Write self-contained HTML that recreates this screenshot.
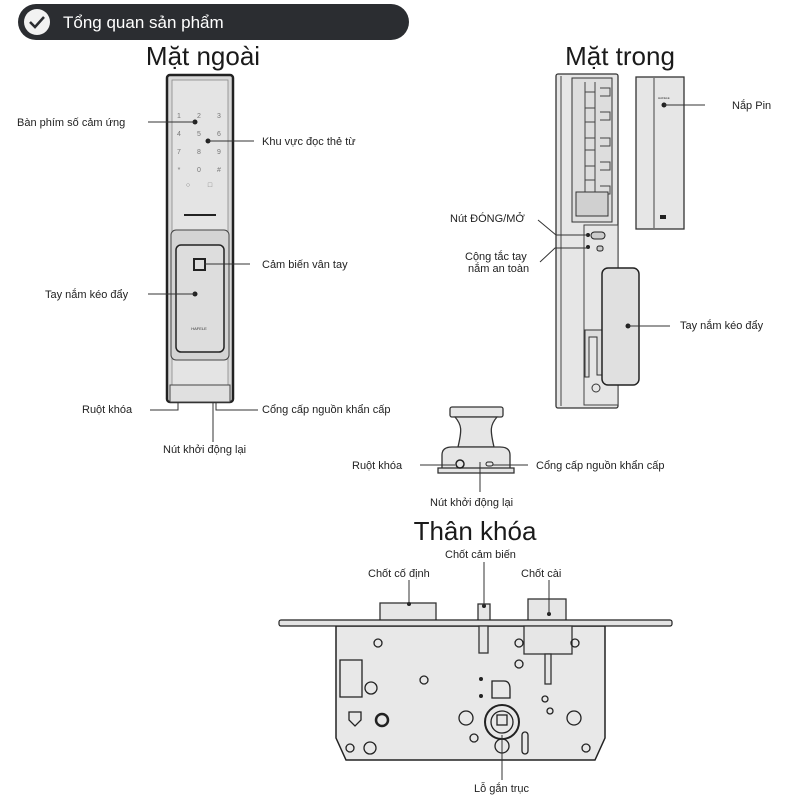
<!DOCTYPE html>
<html><head><meta charset="utf-8"><style>
html,body{margin:0;padding:0;background:#fff;}
svg{display:block;font-family:"Liberation Sans","DejaVu Sans",sans-serif;}
.l{font-size:11px;fill:#222;}
.t{font-size:26px;fill:#1a1a1a;}
.ln{stroke:#333;stroke-width:1;fill:none;}
.b{stroke:#333;stroke-width:1.3;fill:#e6e6e6;}
.s{stroke:#444;stroke-width:1;fill:none;}
</style></head><body>
<svg width="800" height="800" viewBox="0 0 800 800" xmlns="http://www.w3.org/2000/svg">
<rect x="18" y="4" width="391" height="36" rx="18" fill="#2b2d31"/>
<circle cx="37" cy="22" r="13" fill="#f2f2f2"/>
<path d="M30 22 l5 5 l9 -10" stroke="#2b2d31" stroke-width="2.5" fill="none"/>
<text x="63" y="28" font-size="17" fill="#fff">Tổng quan sản phẩm</text>

<text class="t" x="203" y="65" text-anchor="middle">Mặt ngoài</text>
<rect x="167" y="75" width="66" height="327" rx="3" fill="#d8d8d8" stroke="#222" stroke-width="2.5"/>
<rect x="172" y="80" width="56" height="318" fill="#e4e4e4" stroke="#888" stroke-width="0.8"/>
<g font-size="7" fill="#777" text-anchor="middle">
<text x="179" y="118">1</text><text x="199" y="118">2</text><text x="219" y="118">3</text>
<text x="179" y="136">4</text><text x="199" y="136">5</text><text x="219" y="136">6</text>
<text x="179" y="154">7</text><text x="199" y="154">8</text><text x="219" y="154">9</text>
<text x="179" y="172">*</text><text x="199" y="172">0</text><text x="219" y="172">#</text>
<text x="188" y="187">○</text><text x="210" y="187">□</text>
</g>
<line x1="184" y1="215" x2="216" y2="215" stroke="#222" stroke-width="2"/>
<rect x="171" y="230" width="58" height="130" rx="5" fill="#d4d4d4" stroke="#444"/>
<rect x="176" y="245" width="48" height="107" rx="5" fill="#ddd" stroke="#222" stroke-width="1.5"/>
<rect x="194" y="259" width="11" height="11" fill="#ddd" stroke="#222" stroke-width="2"/>
<text x="199" y="330" font-size="4" text-anchor="middle" fill="#333">HAFELE</text>
<rect x="170" y="385" width="60" height="17" fill="#e0e0e0" stroke="#444"/>
<circle cx="195" cy="122" r="2.5" fill="#222"/><line class="ln" x1="148" y1="122" x2="195" y2="122"/>
<text class="l" x="17" y="126">Bàn phím số cảm ứng</text>
<circle cx="208" cy="141" r="2.5" fill="#222"/><line class="ln" x1="208" y1="141" x2="254" y2="141"/>
<text class="l" x="262" y="145">Khu vực đọc thẻ từ</text>
<line class="ln" x1="204" y1="264" x2="250" y2="264"/>
<text class="l" x="262" y="268">Cảm biến vân tay</text>
<circle cx="195" cy="294" r="2.5" fill="#222"/><line class="ln" x1="148" y1="294" x2="195" y2="294"/>
<text class="l" x="45" y="298">Tay nắm kéo đẩy</text>
<path class="ln" d="M150 410 H178 V402"/>
<text class="l" x="82" y="413">Ruột khóa</text>
<path class="ln" d="M258 410 H216 V402"/>
<text class="l" x="262" y="413">Cổng cấp nguồn khẩn cấp</text>
<line class="ln" x1="213" y1="402" x2="213" y2="442"/>
<text class="l" x="163" y="453">Nút khởi động lại</text>

<text class="t" x="620" y="65" text-anchor="middle">Mặt trong</text>
<rect x="556" y="74" width="62" height="334" rx="2" class="b"/>
<line class="s" x1="561" y1="76" x2="561" y2="406"/>
<rect x="572" y="78" width="40" height="144" fill="#ddd" stroke="#333"/>
<g class="s" stroke-width="1.2">
<path d="M585 82 v130 M595 82 v130"/>
<path d="M585 92 h10 M585 108 h10 M585 122 h10 M585 138 h10 M585 150 h10 M585 166 h10 M585 180 h10 M585 196 h10"/>
<path d="M600 88 h10 v8 h-10 M600 112 h10 v8 h-10 M600 138 h10 v8 h-10 M600 162 h10 v8 h-10 M600 186 h10 v8 h-10"/>
</g>
<rect x="576" y="192" width="32" height="24" fill="#d0d0d0" stroke="#333"/>
<rect x="584" y="225" width="34" height="180" fill="#e6e6e6" stroke="#444"/>
<rect x="591" y="232" width="14" height="7" rx="3.5" fill="#ccc" stroke="#222"/>
<rect x="597" y="246" width="6" height="5" rx="2" fill="#ccc" stroke="#222"/>
<circle cx="588" cy="235" r="2" fill="#222"/><circle cx="588" cy="247" r="2" fill="#222"/>
<path d="M585 330 h18 v45 h-6 v-38 h-8 v40 h-4z" fill="#ddd" stroke="#333"/>
<circle cx="596" cy="388" r="4" fill="none" stroke="#333"/>
<rect x="602" y="268" width="37" height="117" rx="6" fill="#e0e0e0" stroke="#222" stroke-width="1.5"/>
<circle cx="628" cy="326" r="2.5" fill="#222"/><line class="ln" x1="628" y1="326" x2="670" y2="326"/>
<text class="l" x="680" y="329">Tay nắm kéo đẩy</text>
<rect x="636" y="77" width="48" height="152" class="b"/>
<line class="s" x1="654" y1="78" x2="654" y2="228"/>
<rect x="660" y="215" width="6" height="4" fill="#222"/>
<text x="658" y="99" font-size="3" fill="#333">HAFELE</text>
<circle cx="664" cy="105" r="2.5" fill="#222"/><line class="ln" x1="664" y1="105" x2="705" y2="105"/>
<text class="l" x="732" y="109">Nắp Pin</text>
<text class="l" x="450" y="222">Nút ĐÓNG/MỞ</text>
<path class="ln" d="M538 220 L556 235 H588"/>
<text class="l" x="465" y="260">Cộng tắc tay</text>
<text class="l" x="468" y="272">nắm an toàn</text>
<path class="ln" d="M540 262 L555 248 H588"/>

<rect x="450" y="407" width="53" height="10" rx="2" class="b"/>
<path d="M455 417 C462 425 462 430 458 447 H494 C490 430 490 425 497 417z" class="b"/>
<path d="M442 470 V455 Q442 447 452 447 H500 Q510 447 510 455 V470z" class="b"/>
<rect x="438" y="468" width="76" height="5" class="b"/>
<circle cx="460" cy="464" r="4" fill="none" stroke="#222" stroke-width="1.5"/>
<rect x="486" y="462" width="7" height="4" rx="2" fill="none" stroke="#222"/>
<line class="ln" x1="420" y1="465" x2="455" y2="465"/>
<text class="l" x="352" y="469">Ruột khóa</text>
<line class="ln" x1="493" y1="465" x2="528" y2="465"/>
<text class="l" x="536" y="469">Cổng cấp nguồn khẩn cấp</text>
<line class="ln" x1="480" y1="462" x2="480" y2="492"/>
<text class="l" x="430" y="506">Nút khởi động lại</text>

<text class="t" x="475" y="540" text-anchor="middle">Thân khóa</text>
<text class="l" x="445" y="558">Chốt cảm biến</text>
<text class="l" x="368" y="577">Chốt cố định</text>
<text class="l" x="521" y="577">Chốt cài</text>
<rect x="380" y="603" width="56" height="18" class="b"/>
<rect x="478" y="604" width="12" height="17" class="b"/>
<rect x="528" y="599" width="38" height="22" class="b"/>
<path d="M336 626 H605 V738 L595 760 H346 L336 738z" fill="#e8e8e8" stroke="#222" stroke-width="1.5"/>
<rect x="279" y="620" width="393" height="6" rx="2" fill="#e4e4e4" stroke="#222" stroke-width="1.2"/>
<rect x="479" y="626" width="9" height="27" class="b"/>
<rect x="524" y="626" width="48" height="28" class="b"/>
<rect x="545" y="654" width="6" height="30" class="b"/>
<circle cx="409" cy="604" r="2" fill="#222"/><line class="ln" x1="409" y1="580" x2="409" y2="604"/>
<circle cx="484" cy="606" r="2" fill="#222"/><line class="ln" x1="484" y1="562" x2="484" y2="606"/>
<circle cx="549" cy="614" r="2" fill="#222"/><line class="ln" x1="549" y1="580" x2="549" y2="614"/>
<g fill="none" stroke="#222" stroke-width="1.3">
<circle cx="378" cy="643" r="4"/><circle cx="424" cy="680" r="4"/><circle cx="519" cy="643" r="4"/><circle cx="519" cy="664" r="4"/>
<circle cx="575" cy="643" r="4"/><circle cx="350" cy="748" r="4"/><circle cx="474" cy="738" r="4"/><circle cx="586" cy="748" r="4"/>
<circle cx="371" cy="688" r="6"/><circle cx="370" cy="748" r="6"/><circle cx="466" cy="718" r="7"/><circle cx="574" cy="718" r="7"/>
<circle cx="545" cy="699" r="3"/><circle cx="550" cy="711" r="3"/><circle cx="502" cy="746" r="7"/>
<circle cx="502" cy="722" r="17" stroke-width="2"/><circle cx="502" cy="722" r="11"/>
<rect x="497" y="715" width="10" height="10"/>
<path d="M340 660 h22 v37 h-22z"/><path d="M349 712 h12 v8 l-6 6 l-6 -6z"/>
<circle cx="382" cy="720" r="6" stroke-width="2.5"/>
<path d="M492 681 h12 q6 0 6 8 v9 h-18z"/>
<rect x="522" y="732" width="6" height="22" rx="3"/>
</g>
<circle cx="481" cy="679" r="2" fill="#222"/><circle cx="481" cy="696" r="2" fill="#222"/>
<line class="ln" x1="502" y1="735" x2="502" y2="780"/>
<text class="l" x="474" y="792">Lỗ gắn trục</text>
</svg>
</body></html>
